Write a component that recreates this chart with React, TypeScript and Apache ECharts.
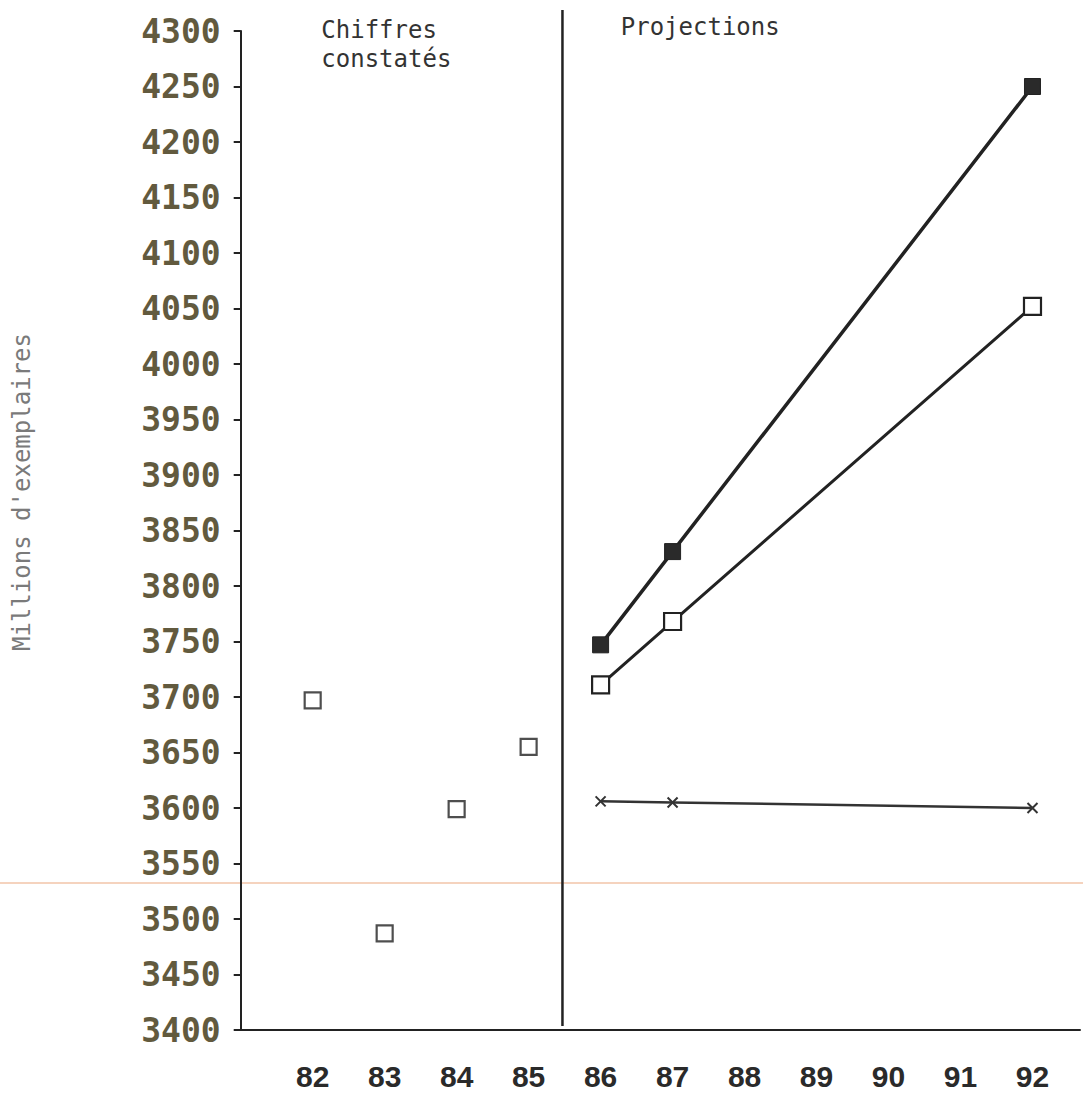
import React, { useEffect, useRef } from "react";
import * as echarts from "echarts";

const xTickLabels = ["82", "83", "84", "85", "86", "87", "88", "89", "90", "91", "92"];
const observedYears = [82, 83, 84, 85];
const observedValues = [3697, 3487, 3599, 3655];
const projYears = [86, 87, 92];
const projHigh = [3747, 3831, 4250];
const projMid = [3711, 3768, 4052];
const projLow = [3606, 3605, 3600];
const yMin = 3400;
const yMax = 4300;
const yStep = 50;
const separatorYear = 85.47;
const regionLabels = ["Chiffres\nconstatés", "Projections"];
const yAxisTitle = "Millions d'exemplaires";

const pair = (xs: number[], ys: number[]) => xs.map((x, i) => [x, ys[i]]);

export default function App() {
  const ref = useRef<HTMLDivElement>(null);
  useEffect(() => {
    if (!ref.current) return;
    const chart = echarts.init(ref.current, null, { renderer: "svg" });
    const ink = "#222";
    chart.setOption({
      animation: false,
      backgroundColor: "#ffffff",
      grid: { left: 240.7, right: 0, top: 31, bottom: 75, containLabel: false },
      xAxis: {
        type: "value",
        min: 81,
        max: 92.66,
        interval: 1,
        splitLine: { show: false },
        axisTick: { show: false },
        axisLine: { show: true, lineStyle: { color: ink, width: 2 } },
        axisLabel: {
          margin: 31,
          color: "#2a2a2a",
          fontFamily: "'Liberation Sans Narrow', 'Liberation Sans', Arial, sans-serif",
          fontWeight: "bold",
          fontSize: 30,
          formatter: (v: number) => {
            const s = String(Math.round(v));
            return xTickLabels.includes(s) && Math.abs(v - Math.round(v)) < 1e-6 ? s : "";
          },
        },
      },
      yAxis: {
        type: "value",
        min: yMin,
        max: yMax,
        interval: yStep,
        splitLine: { show: false },
        axisLine: { show: true, lineStyle: { color: ink, width: 2 } },
        axisTick: { show: true, length: 7, lineStyle: { color: ink, width: 2 } },
        axisLabel: {
          margin: 20,
          color: "#625a3e",
          fontFamily: "'DejaVu Sans Mono', monospace",
          fontWeight: "bold",
          fontSize: 33,
          formatter: (v: number) => String(v),
        },
      },
      series: [
        {
          type: "scatter",
          name: "constatés",
          data: pair(observedYears, observedValues),
          symbol: "rect",
          symbolSize: 16,
          itemStyle: { color: "#ffffff", borderColor: ink, borderWidth: 2.2 },
        },
        {
          type: "line",
          name: "haute",
          data: pair(projYears, projHigh),
          symbol: "rect",
          symbolSize: 16,
          lineStyle: { color: ink, width: 3.5 },
          itemStyle: { color: "#2a2a2a", borderColor: ink, borderWidth: 1 },
        },
        {
          type: "line",
          name: "moyenne",
          data: pair(projYears, projMid),
          symbol: "rect",
          symbolSize: 17,
          lineStyle: { color: ink, width: 3 },
          itemStyle: { color: "#ffffff", borderColor: ink, borderWidth: 2.2 },
        },
        {
          type: "line",
          name: "basse",
          data: pair(projYears, projLow),
          symbol: "path://M0,0L10,10M10,0L0,10",
          symbolSize: 10,
          showAllSymbol: true,
          lineStyle: { color: "#333", width: 2.5 },
          itemStyle: { color: "none", borderColor: "#333", borderWidth: 2 },
        },
      ],
    });
    const sepX = chart.convertToPixel({ xAxisIndex: 0 }, separatorYear) as number;
    const chiffresX = chart.convertToPixel({ xAxisIndex: 0 }, 82.12) as number;
    const projX = chart.convertToPixel({ xAxisIndex: 0 }, 86.28) as number;
    chart.setOption({
      graphic: [
        {
          type: "line",
          shape: { x1: sepX, y1: 10, x2: sepX, y2: 1026 },
          style: { stroke: ink, lineWidth: 2.5 },
        },
        {
          type: "text",
          x: chiffresX,
          y: 15,
          style: {
            text: regionLabels[0],
            font: "24px 'DejaVu Sans Mono', monospace",
            fill: "#333",
            lineHeight: 29,
          },
        },
        {
          type: "text",
          x: projX,
          y: 15,
          style: {
            text: regionLabels[1],
            font: "24px 'DejaVu Sans Mono', monospace",
            fill: "#333",
          },
        },
        {
          type: "text",
          x: 22,
          y: 492,
          rotation: Math.PI / 2,
          style: {
            text: yAxisTitle,
            font: "24px 'DejaVu Sans Mono', monospace",
            fill: "#7a7a7a",
            align: "center",
            verticalAlign: "middle",
          },
        },
        {
          type: "line",
          shape: { x1: 0, y1: 883, x2: 1083, y2: 883 },
          style: { stroke: "#f2c4a8", lineWidth: 1.5 },
          z: -1,
        },
      ],
    });
    return () => chart.dispose();
  }, []);
  return (
    <div
      ref={ref}
      style={{ position: "fixed", left: 0, top: 0, width: 1083, height: 1105 }}
    />
  );
}
